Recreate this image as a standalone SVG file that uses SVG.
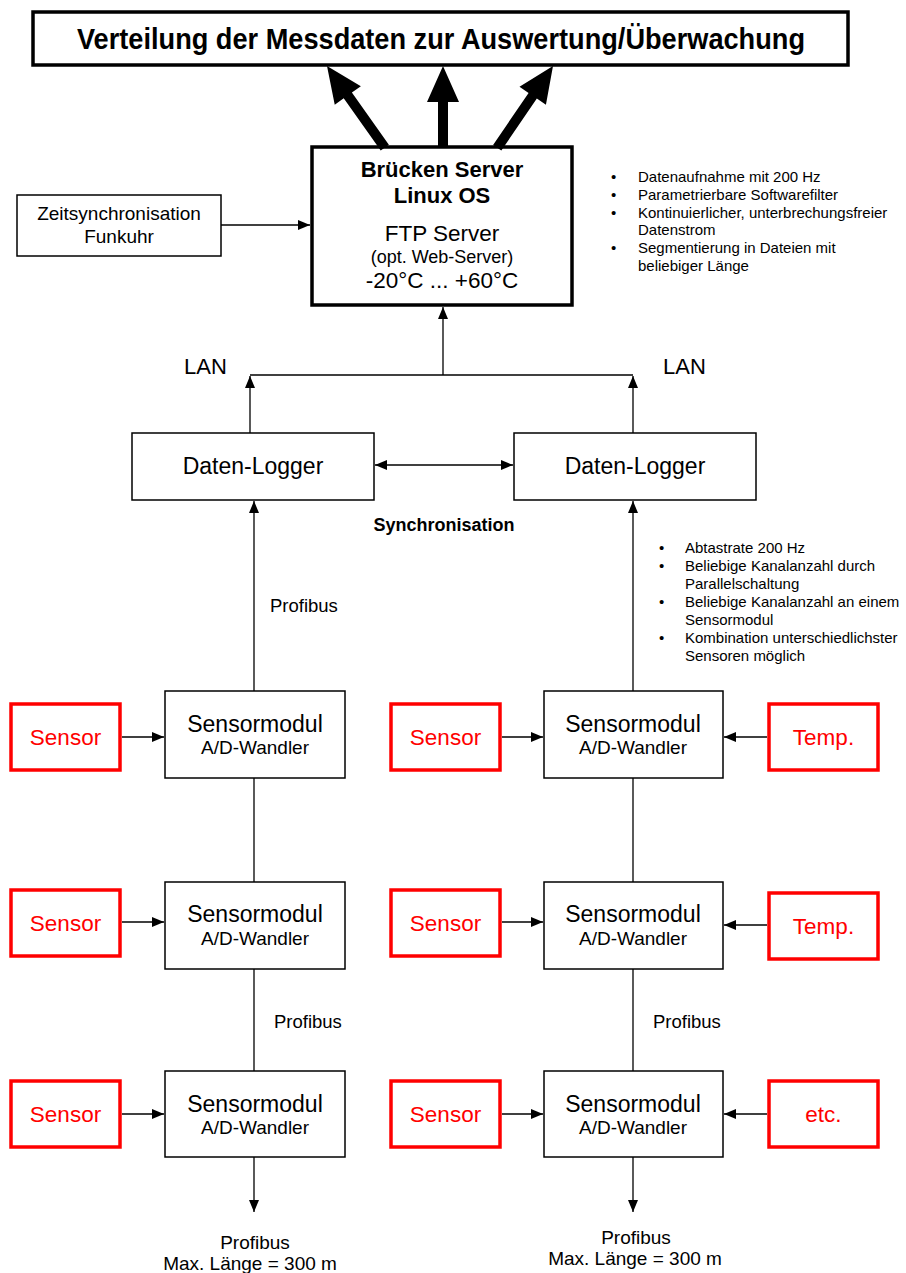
<svg xmlns="http://www.w3.org/2000/svg" width="906" height="1273" viewBox="0 0 906 1273">
<style>
text{font-family:"Liberation Sans",Arial,sans-serif;fill:#000}
.c{text-anchor:middle}
.b{font-weight:bold}
.box{fill:#fff;stroke:#000;stroke-width:1.5}
.thick{fill:#fff;stroke:#000;stroke-width:3.5}
.red{fill:#fff;stroke:#f00;stroke-width:3.5}
.rt{fill:#f00;font-size:22.5px;text-anchor:middle}
.ln{stroke:#000;stroke-width:1.3;fill:none}
.big{fill:#000}
.bul{font-size:15px}
.m1{font-size:23px;text-anchor:middle}
.m2{font-size:19px;text-anchor:middle}
.lbl{font-size:18.5px}
</style>
<defs>
<marker id="ah" viewBox="0 0 12 10" refX="12" refY="5" markerWidth="12" markerHeight="10" markerUnits="userSpaceOnUse" orient="auto-start-reverse">
<path d="M0,0 L12,5 L0,10 z" fill="#000"/>
</marker>
</defs>

<g id="top">
<rect class="thick" x="33" y="12" width="815" height="53"/>
<text class="b c" x="441" y="49" font-size="29" textLength="728" lengthAdjust="spacingAndGlyphs">Verteilung der Messdaten zur Auswertung/Überwachung</text>
</g>

<g id="server">
<rect class="thick" x="312" y="147" width="260" height="158"/>
<text class="b c" x="442" y="177" font-size="22">Brücken Server</text>
<text class="b c" x="442" y="203" font-size="22">Linux OS</text>
<text class="c" x="442" y="241" font-size="22.5">FTP Server</text>
<text class="c" x="442" y="263" font-size="18">(opt. Web-Server)</text>
<text class="c" x="442" y="288" font-size="22.5">-20°C ... +60°C</text>
</g>

<g id="zeit">
<rect class="box" x="17" y="195" width="204" height="61"/>
<text class="c" x="119" y="220" font-size="19">Zeitsynchronisation</text>
<text class="c" x="119" y="243" font-size="19">Funkuhr</text>
</g>

<g id="notes-server">
<text class="bul" x="611" y="182">•</text><text class="bul" x="638" y="182">Datenaufnahme mit 200 Hz</text>
<text class="bul" x="611" y="200">•</text><text class="bul" x="638" y="200">Parametrierbare Softwarefilter</text>
<text class="bul" x="611" y="218">•</text><text class="bul" x="638" y="218">Kontinuierlicher, unterbrechungsfreier</text>
<text class="bul" x="638" y="235">Datenstrom</text>
<text class="bul" x="611" y="253">•</text><text class="bul" x="638" y="253">Segmentierung in Dateien mit</text>
<text class="bul" x="638" y="271">beliebiger Länge</text>
</g>

<g id="notes-sensor">
<text class="bul" x="659" y="553">•</text><text class="bul" x="685" y="553">Abtastrate 200 Hz</text>
<text class="bul" x="659" y="571">•</text><text class="bul" x="685" y="571">Beliebige Kanalanzahl durch</text>
<text class="bul" x="685" y="589">Parallelschaltung</text>
<text class="bul" x="659" y="607">•</text><text class="bul" x="685" y="607">Beliebige Kanalanzahl an einem</text>
<text class="bul" x="685" y="625">Sensormodul</text>
<text class="bul" x="659" y="643">•</text><text class="bul" x="685" y="643">Kombination unterschiedlichster</text>
<text class="bul" x="685" y="661">Sensoren möglich</text>
</g>

<g id="labels">
<text x="184" y="374" font-size="22">LAN</text>
<text x="663" y="374" font-size="22">LAN</text>
<text class="b c" x="444" y="531" font-size="18">Synchronisation</text>
<text class="lbl" x="270" y="612">Profibus</text>
<text class="lbl" x="274" y="1028">Profibus</text>
<text class="lbl" x="653" y="1028">Profibus</text>
<text class="c" x="255" y="1249" font-size="19">Profibus</text>
<text class="c" x="250" y="1270" font-size="19">Max. Länge = 300 m</text>
<text class="c" x="636" y="1244" font-size="19">Profibus</text>
<text class="c" x="635" y="1265" font-size="19">Max. Länge = 300 m</text>
</g>

<g id="logger-left">
<rect class="box" x="132" y="433" width="242" height="67"/>
<text class="c" x="253" y="474" font-size="23">Daten-Logger</text>
</g>
<g id="logger-right">
<rect class="box" x="514" y="433" width="242" height="67"/>
<text class="c" x="635" y="474" font-size="23">Daten-Logger</text>
</g>

<g id="modul-l1"><rect class="box" x="165" y="691" width="180" height="87"/><text class="m1" x="255" y="732">Sensormodul</text><text class="m2" x="255" y="754">A/D-Wandler</text></g>
<g id="modul-l2"><rect class="box" x="165" y="882" width="180" height="87"/><text class="m1" x="255" y="922">Sensormodul</text><text class="m2" x="255" y="945">A/D-Wandler</text></g>
<g id="modul-l3"><rect class="box" x="165" y="1071" width="180" height="86"/><text class="m1" x="255" y="1112">Sensormodul</text><text class="m2" x="255" y="1134">A/D-Wandler</text></g>
<g id="modul-r1"><rect class="box" x="544" y="691" width="179" height="87"/><text class="m1" x="633" y="732">Sensormodul</text><text class="m2" x="633" y="754">A/D-Wandler</text></g>
<g id="modul-r2"><rect class="box" x="544" y="882" width="179" height="87"/><text class="m1" x="633" y="922">Sensormodul</text><text class="m2" x="633" y="945">A/D-Wandler</text></g>
<g id="modul-r3"><rect class="box" x="544" y="1071" width="179" height="86"/><text class="m1" x="633" y="1112">Sensormodul</text><text class="m2" x="633" y="1134">A/D-Wandler</text></g>

<g id="sensor-l1"><rect class="red" x="11" y="704" width="109" height="66"/><text class="rt" x="65.5" y="745">Sensor</text></g>
<g id="sensor-l2"><rect class="red" x="11" y="890" width="109" height="66"/><text class="rt" x="65.5" y="931">Sensor</text></g>
<g id="sensor-l3"><rect class="red" x="11" y="1081" width="109" height="66"/><text class="rt" x="65.5" y="1122">Sensor</text></g>
<g id="sensor-m1"><rect class="red" x="391" y="704" width="109" height="66"/><text class="rt" x="445.5" y="745">Sensor</text></g>
<g id="sensor-m2"><rect class="red" x="391" y="890" width="109" height="66"/><text class="rt" x="445.5" y="931">Sensor</text></g>
<g id="sensor-m3"><rect class="red" x="391" y="1081" width="109" height="66"/><text class="rt" x="445.5" y="1122">Sensor</text></g>
<g id="temp-1"><rect class="red" x="769" y="704" width="109" height="66"/><text class="rt" x="823.5" y="745">Temp.</text></g>
<g id="temp-2"><rect class="red" x="769" y="893" width="109" height="66"/><text class="rt" x="823.5" y="934">Temp.</text></g>
<g id="etc"><rect class="red" x="769" y="1081" width="109" height="66"/><text class="rt" x="823.5" y="1122">etc.</text></g>

<g id="connectors">
<path class="big" transform="translate(327,66) rotate(-35.3)" d="M0,0 L16,36 L5,36 L5,100 L-5,100 L-5,36 L-16,36 z"/>
<path class="big" transform="translate(443,66)" d="M0,0 L16,36 L5,36 L5,81 L-5,81 L-5,36 L-16,36 z"/>
<path class="big" transform="translate(553,66) rotate(34.3)" d="M0,0 L16,36 L5,36 L5,99 L-5,99 L-5,36 L-16,36 z"/>
<line class="ln" x1="221" y1="225" x2="310" y2="225" marker-end="url(#ah)"/>
<line class="ln" x1="443" y1="375" x2="443" y2="307" marker-end="url(#ah)"/>
<line class="ln" x1="250" y1="375" x2="633" y2="375"/>
<line class="ln" x1="250" y1="433" x2="250" y2="376" marker-end="url(#ah)"/>
<line class="ln" x1="633" y1="433" x2="633" y2="376" marker-end="url(#ah)"/>
<line class="ln" x1="375" y1="465" x2="513" y2="465" marker-start="url(#ah)" marker-end="url(#ah)"/>
<line class="ln" x1="254" y1="691" x2="254" y2="501" marker-end="url(#ah)"/>
<line class="ln" x1="633" y1="691" x2="633" y2="501" marker-end="url(#ah)"/>
<line class="ln" x1="254" y1="778" x2="254" y2="882"/>
<line class="ln" x1="254" y1="969" x2="254" y2="1071"/>
<line class="ln" x1="633" y1="778" x2="633" y2="882"/>
<line class="ln" x1="633" y1="969" x2="633" y2="1071"/>
<line class="ln" x1="254" y1="1157" x2="254" y2="1212" marker-end="url(#ah)"/>
<line class="ln" x1="633" y1="1157" x2="633" y2="1212" marker-end="url(#ah)"/>
<line class="ln" x1="122" y1="737" x2="164" y2="737" marker-end="url(#ah)"/>
<line class="ln" x1="122" y1="922" x2="164" y2="922" marker-end="url(#ah)"/>
<line class="ln" x1="122" y1="1114" x2="164" y2="1114" marker-end="url(#ah)"/>
<line class="ln" x1="502" y1="737" x2="543" y2="737" marker-end="url(#ah)"/>
<line class="ln" x1="502" y1="922" x2="543" y2="922" marker-end="url(#ah)"/>
<line class="ln" x1="502" y1="1114" x2="543" y2="1114" marker-end="url(#ah)"/>
<line class="ln" x1="767" y1="737" x2="724" y2="737" marker-end="url(#ah)"/>
<line class="ln" x1="767" y1="925" x2="724" y2="925" marker-end="url(#ah)"/>
<line class="ln" x1="767" y1="1114" x2="724" y2="1114" marker-end="url(#ah)"/>
</g>
</svg>
